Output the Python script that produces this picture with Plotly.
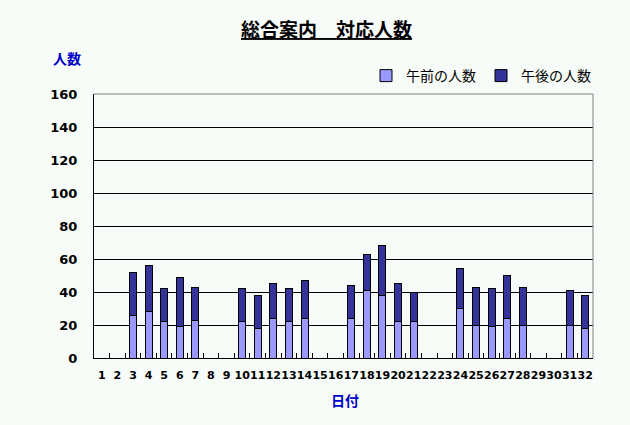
import plotly.graph_objects as go

# days of the month (32 slots as in the original sheet)
days = [str(d) for d in range(1, 33)]

# morning / afternoon counts, None = no data that day
morning = [None, None, 26, 28, 22, 19, 23, None, None, 22, 18, 24, 22, 24, None, None,
           24, 41, 38, 22, 22, None, None, 30, 20, 19, 24, 20, None, None, 20, 18]
afternoon = [None, None, 26, 28, 20, 30, 20, None, None, 20, 20, 21, 20, 23, None, None,
             20, 22, 30, 23, 18, None, None, 24, 23, 23, 26, 23, None, None, 21, 20]

BG = "#F8FCF8"
JP = "Noto Sans CJK JP"
NUM = "DejaVu Sans"

# plot area in pixels, used to place the free text
L, R, T, B = 94, 593, 94, 358


def px_x(x):
    return (x - L) / (R - L)


def px_y(y):
    return (B - y) / (B - T)


fig = go.Figure()
fig.add_trace(go.Bar(x=days, y=morning, name="午前の人数",
                     marker=dict(color="#9999FF", line=dict(color="black", width=1))))
fig.add_trace(go.Bar(x=days, y=afternoon, name="午後の人数",
                     marker=dict(color="#333399", line=dict(color="black", width=1))))

fig.update_layout(
    width=630, height=425,
    barmode="stack", bargap=0.55,
    paper_bgcolor=BG, plot_bgcolor=BG,
    margin=dict(l=L, r=630 - R, t=T, b=425 - B),
    showlegend=True,
    legend=dict(orientation="h", x=px_x(366), y=px_y(76), xanchor="left", yanchor="middle",
                font=dict(family=JP, size=14, color="black"), bgcolor="rgba(0,0,0,0)",
                traceorder="normal", itemwidth=30),
    font=dict(family=NUM, color="black"),
)

fig.update_xaxes(type="category", showline=True, linecolor="black", linewidth=1,
                 ticks="inside", tickson="boundaries", ticklen=5, tickcolor="black",
                 tickangle=0,
                 tickfont=dict(family=NUM, size=11, color="black", weight="bold"),
                 ticklabelstandoff=7, showgrid=False)
fig.update_yaxes(range=[0, 160], dtick=20, showline=True, linecolor="black", linewidth=1,
                 showgrid=True, gridcolor="black", gridwidth=1, zeroline=False,
                 ticks="", tickfont=dict(family=NUM, size=13, color="black", weight="bold"),
                 ticklabelstandoff=13)

# grey frame on top and right of the plot area
fig.add_shape(type="line", xref="paper", yref="paper", x0=0, x1=1, y0=1, y1=1,
              line=dict(color="#808080", width=1))
fig.add_shape(type="line", xref="paper", yref="paper", x0=1, x1=1, y0=0, y1=1,
              line=dict(color="#808080", width=1))

fig.add_annotation(text="<u>総合案内　対応人数</u>", xref="paper", yref="paper",
                   x=px_x(326), y=px_y(28), xanchor="center", yanchor="middle", showarrow=False,
                   font=dict(family=JP, size=19, color="black", weight="bold"))
fig.add_annotation(text="人数", xref="paper", yref="paper", x=px_x(67), y=px_y(58),
                   xanchor="center", yanchor="middle", showarrow=False,
                   font=dict(family=JP, size=14, color="#0000CC", weight="bold"))
fig.add_annotation(text="日付", xref="paper", yref="paper", x=px_x(345), y=px_y(400),
                   xanchor="center", yanchor="middle", showarrow=False,
                   font=dict(family=JP, size=14, color="#0000CC", weight="bold"))

fig.write_html("out.html", config={"displayModeBar": False},
               post_script="document.body.style.margin='0px';")
